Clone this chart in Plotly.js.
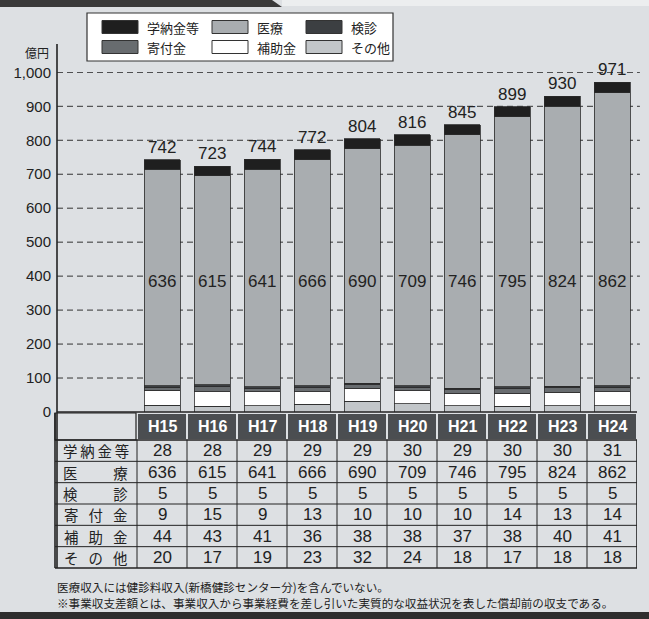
<!DOCTYPE html>
<html>
<head>
<meta charset="utf-8">
<script src="https://cdn.plot.ly/plotly-3.0.1.min.js"></script>
<style>
html,body{margin:0;padding:0;background:#dde0e3;}
#chart{width:649px;height:619px;}
</style>
</head>
<body>
<div id="chart"></div>
<script>
// ---- data (億円) ----
const years = ['H15','H16','H17','H18','H19','H20','H21','H22','H23','H24'];
const gakunokin = [28, 28, 29, 29, 29, 30, 29, 30, 30, 31];
const iryo      = [636, 615, 641, 666, 690, 709, 746, 795, 824, 862];
const kenshin   = [5, 5, 5, 5, 5, 5, 5, 5, 5, 5];
const kifukin   = [9, 15, 9, 13, 10, 10, 10, 14, 13, 14];
const hojokin   = [44, 43, 41, 36, 38, 38, 37, 38, 40, 41];
const sonota    = [20, 17, 19, 23, 32, 24, 18, 17, 18, 18];
const totals    = [742, 723, 744, 772, 804, 816, 845, 899, 930, 971];
const seriesNames = ['学納金等', '医療', '検診', '寄付金', '補助金', 'その他'];
const tableLabels = ['学\u2009納\u2009金\u2009等', '医\u3000\u3000\u2002療', '検\u3000\u3000\u2002診',
                     '寄\u2002\u2009付\u2002\u2009金', '補\u2002\u2009助\u2002\u2009金', 'そ\u2002\u2009の\u2002\u2009他'];
const yTicks = [0, 100, 200, 300, 400, 500, 600, 700, 800, 900, 1000];
const unitLabel = '億円';
const notes = [
  '医療収入には健診料収入(新橋健診センター分)を含んでいない。',
  '※事業収支差額とは、事業収入から事業経費を差し引いた実質的な収益状況を表した償却前の収支である。'
];

// ---- styles ----
const W = 649, H = 619;
const L = 57, R = 637, T = 72, B = 412;
const BG = '#dde0e3';
const INK = '#222222';
const colors = {
  '学納金等': '#1f1f1f', '医療': '#a9adb0', '検診': '#3c3f42',
  '寄付金': '#686c6f', '補助金': '#ffffff', 'その他': '#c2c6c9'
};
const seriesData = {
  '学納金等': gakunokin, '医療': iryo, '検診': kenshin,
  '寄付金': kifukin, '補助金': hojokin, 'その他': sonota
};
const stackOrder = ['その他', '補助金', '寄付金', '検診', '医療', '学納金等'];
const tableRows = [gakunokin, iryo, kenshin, kifukin, hojokin, sonota];
const NUMFONT = 'Liberation Sans, Arial, sans-serif';
const JPFONT = 'Noto Sans CJK JP, sans-serif';

const px = x => (x - L) / (R - L);
const py = y => (B - y) / (B - T);

const traces = stackOrder.map(name => ({
  type: 'bar', name: name, x: years, y: seriesData[name],
  width: 0.72,
  marker: {color: colors[name], line: {color: '#2a2a2a', width: 0.8}},
  hoverinfo: 'x+y+name', showlegend: false
}));

const shapes = [];
const annotations = [];

// dashed grid lines (behind bars)
yTicks.filter(v => v > 0).forEach(v => {
  shapes.push({type:'line', xref:'paper', yref:'y', layer:'below',
    x0:0, x1:1.005, y0:v, y1:v, line:{color:'#333333', width:1, dash:'6px,4px'}});
});

// decorative bands
shapes.push({type:'path', xref:'paper', yref:'paper', layer:'above',
  path:`M ${px(0)},${py(0)} L ${px(272)},${py(0)} L ${px(282)},${py(7)} L ${px(0)},${py(7)} Z`,
  fillcolor:'#3a3a3a', line:{width:0}});
shapes.push({type:'rect', xref:'paper', yref:'paper', layer:'above',
  x0:px(282), x1:px(W), y0:py(0), y1:py(6), fillcolor:'#eceeef', line:{width:0}});
shapes.push({type:'rect', xref:'paper', yref:'paper', layer:'above',
  x0:px(0), x1:px(W), y0:py(612), y1:py(H), fillcolor:'#2e2e2e', line:{width:0}});

// y axis line
shapes.push({type:'line', xref:'paper', yref:'paper', layer:'above',
  x0:px(57), x1:px(57), y0:py(44), y1:py(568), line:{color:INK, width:1.6}});

// table geometry
const tblTop = 413, hdrBot = 440, tblBot = 568, labL = 55, labR = 136;
const rowH = (tblBot - hdrBot) / tableRows.length;
const n = years.length;

// header cells
years.forEach((yr, i) => {
  shapes.push({type:'rect', xref:'x', yref:'paper', layer:'above',
    x0:i-0.5, x1:i+0.5, y0:py(tblTop), y1:py(hdrBot),
    fillcolor:'#4b4e51', line:{color:BG, width:2}});
  annotations.push({xref:'x', yref:'paper', x:i, y:py((tblTop+hdrBot)/2),
    text:'<b>'+yr+'</b>', showarrow:false, xanchor:'center', yanchor:'middle', borderpad:0,
    font:{family:NUMFONT, size:16, color:'#ffffff'}});
});
// label column header cell
shapes.push({type:'rect', xref:'paper', yref:'paper', layer:'above',
  x0:px(labL), x1:px(labR), y0:py(tblTop), y1:py(hdrBot),
  fillcolor:'rgba(0,0,0,0)', line:{color:INK, width:1.2}});
// horizontal row lines
for (let r = 0; r <= tableRows.length; r++) {
  const yy = hdrBot + r*rowH;
  shapes.push({type:'line', xref:'paper', yref:'paper', layer:'above',
    x0:px(labL), x1:px(R), y0:py(yy), y1:py(yy),
    line:{color:INK, width:(r===0||r===tableRows.length)?1.6:1}});
}
// vertical column lines in body
for (let i = 0; i <= n; i++) {
  shapes.push({type:'line', xref:'x', yref:'paper', layer:'above',
    x0:i-0.5, x1:i-0.5, y0:py(hdrBot), y1:py(tblBot),
    line:{color:INK, width:(i===n)?1.6:1}});
}
shapes.push({type:'line', xref:'paper', yref:'paper', layer:'above',
  x0:px(labL), x1:px(labL), y0:py(tblTop), y1:py(tblBot), line:{color:INK, width:1.6}});
// baseline (0)
shapes.push({type:'line', xref:'paper', yref:'paper', layer:'above',
  x0:px(57), x1:px(R), y0:py(412), y1:py(412), line:{color:INK, width:1.6}});

// table values & row labels
tableRows.forEach((row, r) => {
  const yc = py(hdrBot + (r+0.5)*rowH);
  annotations.push({xref:'paper', yref:'paper', x:px((labL+labR)/2), y:yc,
    text:tableLabels[r], showarrow:false, xanchor:'center', yanchor:'middle',
    borderpad:0,
    font:{family:JPFONT, size:14.4, color:INK}});
  row.forEach((v, i) => {
    annotations.push({xref:'x', yref:'paper', x:i, y:yc, text:String(v),
      showarrow:false, xanchor:'center', yanchor:'middle', borderpad:0,
      font:{family:NUMFONT, size:17, color:INK}});
  });
});

// totals above bars and 医療 values inside bars
years.forEach((yr, i) => {
  annotations.push({xref:'x', yref:'y', x:i, y:totals[i], text:String(totals[i]),
    showarrow:false, xanchor:'center', yanchor:'bottom', yshift:1,
    font:{family:NUMFONT, size:17, color:INK}});
  annotations.push({xref:'x', yref:'y', x:i, y:385, text:String(iryo[i]),
    showarrow:false, xanchor:'center', yanchor:'middle',
    font:{family:NUMFONT, size:17, color:INK}});
});

// unit label
annotations.push({xref:'paper', yref:'paper', x:px(51), y:py(53), text:unitLabel,
  showarrow:false, xanchor:'right', yanchor:'middle',
  font:{family:JPFONT, size:12, color:INK}});

// custom legend
shapes.push({type:'rect', xref:'paper', yref:'paper', layer:'above',
  x0:px(87), x1:px(393), y0:py(13), y1:py(61),
  fillcolor:'#ffffff', line:{color:'#333333', width:1.2}});
const legX = [102, 212, 306], legY = [27, 47];
seriesNames.forEach((name, k) => {
  const c = k % 3, r = Math.floor(k / 3);
  const x0 = legX[c], yc = legY[r];
  shapes.push({type:'rect', xref:'paper', yref:'paper', layer:'above',
    x0:px(x0), x1:px(x0+36), y0:py(yc-6.5), y1:py(yc+6.5),
    fillcolor:colors[name], line:{color:'#333333', width:1}});
  annotations.push({xref:'paper', yref:'paper', x:px(x0+43), y:py(yc), text:name,
    showarrow:false, xanchor:'left', yanchor:'middle',
    font:{family:JPFONT, size:13, color:INK}});
});

// notes
notes.forEach((t, k) => {
  annotations.push({xref:'paper', yref:'paper', x:px(55), y:py(587 + k*16), text:t,
    showarrow:false, xanchor:'left', yanchor:'middle',
    font:{family:JPFONT, size:11.6, color:INK}});
});

const layout = {
  width: W, height: H,
  margin: {l: L, r: W - R, t: T, b: H - B, pad: 0},
  paper_bgcolor: BG, plot_bgcolor: 'rgba(0,0,0,0)',
  barmode: 'stack', bargap: 0.28,
  showlegend: false,
  xaxis: {type:'category', range:[(L-162)/50, (R-162)/50], showticklabels:false,
    showgrid:false, zeroline:false, showline:false, ticks:'', fixedrange:true},
  yaxis: {range:[0, 1001], tickvals:yTicks,
    tickformat:',d', showgrid:false,
    zeroline:false, showline:false, ticks:'', ticklabelstandoff:5,
    tickfont:{family:NUMFONT, size:15, color:INK}, fixedrange:true},
  shapes: shapes,
  annotations: annotations,
  font: {family: NUMFONT, color: INK}
};

Plotly.newPlot('chart', traces, layout, {displayModeBar:false, staticPlot:true});
</script>
</body>
</html>
